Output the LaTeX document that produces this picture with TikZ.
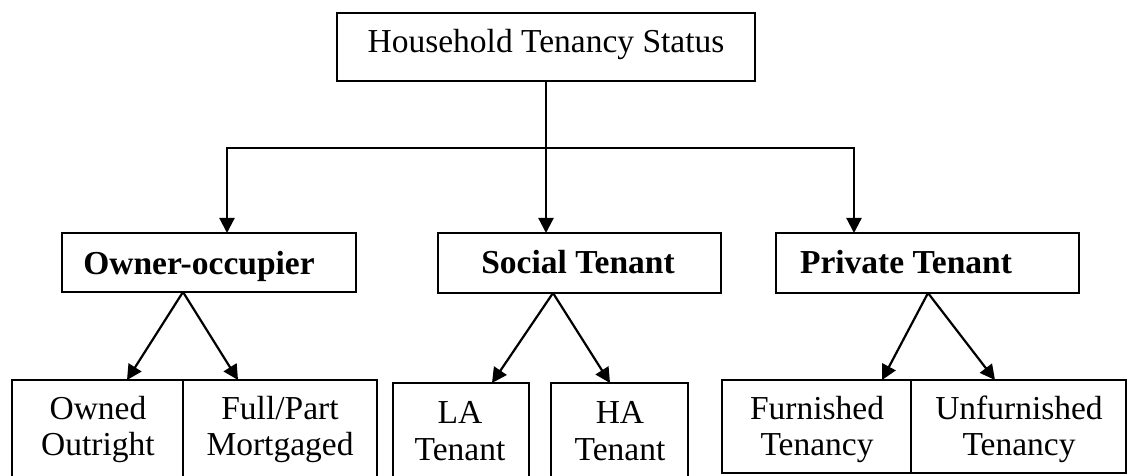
\documentclass[tikz,border=0pt]{standalone}
\usepackage{fontspec}
\setmainfont{Liberation Serif}
\usetikzlibrary{arrows.meta}
\begin{document}
\begin{tikzpicture}[x=1pt,y=-1pt]
\tikzset{
 box/.style={draw, line width=2.2pt, inner sep=0pt, outer sep=0pt},
 txt/.style={anchor=base, inner sep=0pt, font=\fontsize{33.5}{38}\selectfont},
 btxt/.style={anchor=base, inner sep=0pt, font=\fontsize{33.5}{38}\selectfont\bfseries},
 arr/.style={line width=2.2pt, -{Triangle[length=15pt,width=15pt]}}
}
\useasboundingbox (0,0) rectangle (1128,476);
\clip (0,0) rectangle (1128,476);
\fill[white] (0,0) rectangle (1128,476);
% boxes
\node[box, minimum width=418pt, minimum height=68pt] (top) at (546,47) {};
\node[box, minimum width=294pt, minimum height=59pt] (owner) at (209,262.5) {};
\node[box, minimum width=283pt, minimum height=60pt] (social) at (579.5,263) {};
\node[box, minimum width=303pt, minimum height=60pt] (private) at (927.5,263) {};
\node[box, minimum width=171pt, minimum height=102pt] (owned) at (97.5,431) {};
\node[box, minimum width=194pt, minimum height=102pt] (full) at (280,431) {};
\node[box, minimum width=136pt, minimum height=99pt] (la) at (461,432.5) {};
\node[box, minimum width=137pt, minimum height=99pt] (ha) at (619.5,432.5) {};
\node[box, minimum width=189pt, minimum height=93pt] (furn) at (816.5,426.5) {};
\node[box, minimum width=215pt, minimum height=93pt] (unf) at (1018.5,426.5) {};
% texts
\node[txt] (ttop) at (546,53) {Household Tenancy Status};
\node[btxt] (towner) at (199,274) {Owner-occupier};
\node[btxt] (tsocial) at (578,273) {Social Tenant};
\node[btxt] (tprivate) at (906,273) {Private Tenant};
\node[txt] (towned1) at (98,419) {Owned};
\node[txt] (towned2) at (98,455) {Outright};
\node[txt] (tfull1) at (280,419) {Full/Part};
\node[txt] (tfull2) at (280,455) {Mortgaged};
\node[txt] (tla1) at (460,423) {LA};
\node[txt] (tla2) at (460,460) {Tenant};
\node[txt] (tha1) at (620,423) {HA};
\node[txt] (tha2) at (620,460) {Tenant};
\node[txt] (tfurn1) at (817,419) {Furnished};
\node[txt] (tfurn2) at (817,455) {Tenancy};
\node[txt] (tunf1) at (1019,419) {Unfurnished};
\node[txt] (tunf2) at (1019,455) {Tenancy};
% connectors level 1
\coordinate (hl) at (227,148);
\coordinate (hr) at (854,148);
\coordinate (ot) at (227,233);
\coordinate (st) at (546,233);
\coordinate (pt) at (854,233);
\draw[arr] (top.south) |- (hl) -- (ot);
\draw[arr] (top.south) |- (hr) -- (pt);
\draw[arr] (top.south) -- (st);
% connectors level 2
\coordinate (ob) at (183,292);
\coordinate (sb) at (553,293);
\coordinate (pb) at (928,293);
\coordinate (o1) at (127,380);
\coordinate (o2) at (238,380);
\coordinate (s1) at (492,383);
\coordinate (s2) at (610,383);
\coordinate (p1) at (882,380);
\coordinate (p2) at (995,380);
\draw[arr] (ob) -- (o1);
\draw[arr] (ob) -- (o2);
\draw[arr] (sb) -- (s1);
\draw[arr] (sb) -- (s2);
\draw[arr] (pb) -- (p1);
\draw[arr] (pb) -- (p2);
\end{tikzpicture}
\end{document}
